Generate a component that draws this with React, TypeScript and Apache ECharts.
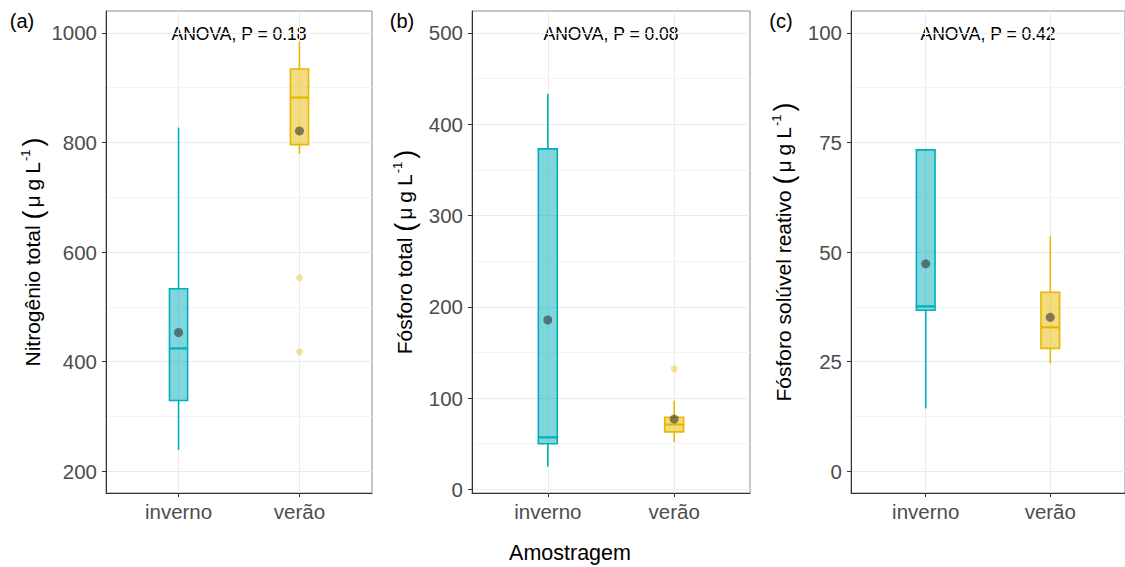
import React, { useEffect, useRef } from 'react';
import * as echarts from 'echarts';

// ---------- data ----------
const categories = ['inverno', 'verão'];
const categoryPositions = [1, 2];

// (a) Nitrogênio total: [min, Q1, median, Q3, max]
const nitroBoxes = [
  [239, 329, 424, 533, 827],
  [779, 796, 882, 934, 984],
];
const nitroMeans = [453, 821];
const nitroOutliers = [
  [2, 553],
  [2, 418],
];
const nitroTicks = [200, 400, 600, 800, 1000];
const nitroMinor = [300, 500, 700, 900];

// (b) Fósforo total
const fosfBoxes = [
  [25, 50, 57, 373, 433],
  [52, 63, 71, 79, 97],
];
const fosfMeans = [185.5, 77];
const fosfOutliers = [[2, 132]];
const fosfTicks = [0, 100, 200, 300, 400, 500];
const fosfMinor = [50, 150, 250, 350, 450];

// (c) Fósforo solúvel reativo
const srpBoxes = [
  [14.3, 36.7, 37.6, 73.3, 73.3],
  [24.6, 28, 32.8, 40.8, 53.6],
];
const srpMeans = [47.3, 35.1];
const srpOutliers: number[][] = [];
const srpTicks = [0, 25, 50, 75, 100];
const srpMinor = [12.5, 37.5, 62.5, 87.5];

const panelLabels = ['(a)', '(b)', '(c)'];
const anovaLabels = ['ANOVA, P = 0.18', 'ANOVA, P = 0.08', 'ANOVA, P = 0.42'];
const yTitles = ['Nitrogênio total ', 'Fósforo total ', 'Fósforo solúvel reativo '];
const xTitle = 'Amostragem';

// ---------- style ----------
const FONT = '"Liberation Sans", Arial, Helvetica, sans-serif';
const BORDER_COLORS = ['#00AFBB', '#E7B800'];
const FILL_COLORS = ['rgba(0,175,187,0.5)', 'rgba(231,184,0,0.5)'];
const OUTLIER_COLOR = 'rgba(231,184,0,0.5)';
const MEAN_COLOR = 'rgba(45,45,45,0.72)';
const BOX_WIDTH = 0.15;
const TICK_FONT = 20.5;
const TITLE_FONT = 21;

const panels = [
  { boxes: nitroBoxes, means: nitroMeans, outliers: nitroOutliers, ticks: nitroTicks, minor: nitroMinor, min: 160, max: 1040, grid: { left: 106, top: 11, width: 266, height: 482 }, nameGap: 60 },
  { boxes: fosfBoxes, means: fosfMeans, outliers: fosfOutliers, ticks: fosfTicks, minor: fosfMinor, min: -4, max: 524, grid: { left: 472, top: 11, width: 278, height: 482 }, nameGap: 54 },
  { boxes: srpBoxes, means: srpMeans, outliers: srpOutliers, ticks: srpTicks, minor: srpMinor, min: -5, max: 105, grid: { left: 851, top: 11, width: 279, height: 482 }, nameGap: 54 },
];

function renderBox(params: any, api: any) {
  const i = params.dataIndex;
  const x = api.value(0);
  const lo = api.coord([x, api.value(1)]);
  const q1 = api.coord([x, api.value(2)]);
  const med = api.coord([x, api.value(3)]);
  const q3 = api.coord([x, api.value(4)]);
  const hi = api.coord([x, api.value(5)]);
  const w = api.size([BOX_WIDTH, 0])[0];
  const cx = q1[0];
  const stroke = BORDER_COLORS[i];
  const lineStyle = { stroke, lineWidth: 1.6 };
  return {
    type: 'group',
    children: [
      { type: 'line', shape: { x1: cx, y1: hi[1], x2: cx, y2: q3[1] }, style: lineStyle },
      { type: 'line', shape: { x1: cx, y1: q1[1], x2: cx, y2: lo[1] }, style: lineStyle },
      {
        type: 'rect',
        shape: { x: cx - w / 2, y: q3[1], width: w, height: q1[1] - q3[1] },
        style: { fill: FILL_COLORS[i], stroke, lineWidth: 1.6 },
      },
      { type: 'line', shape: { x1: cx - w / 2, y1: med[1], x2: cx + w / 2, y2: med[1] }, style: { stroke, lineWidth: 2.2 } },
    ],
  };
}

export default function App() {
  const ref = useRef<HTMLDivElement>(null);

  useEffect(() => {
    if (!ref.current) return;
    const chart = echarts.init(ref.current, undefined, { renderer: 'svg' });

    const grids: any[] = [];
    const xAxes: any[] = [];
    const yAxes: any[] = [];
    const series: any[] = [];
    const graphics: any[] = [];

    panels.forEach((p, k) => {
      grids.push({ ...p.grid, show: true, borderColor: '#8c8c8c', borderWidth: 1, backgroundColor: 'transparent' });
      xAxes.push({
        gridIndex: k,
        type: 'value',
        min: 0.4,
        max: 2.6,
        axisLine: { show: true, onZero: false, lineStyle: { color: '#333', width: 1 } },
        axisTick: { show: true, length: 4, customValues: categoryPositions, lineStyle: { color: '#333' } },
        axisLabel: {
          customValues: categoryPositions,
          formatter: (v: number) => categories[Math.round(v) - 1] ?? '',
          color: '#4d4d4d',
          fontSize: TICK_FONT,
          fontFamily: FONT,
          margin: 8,
        },
        splitLine: { show: true, lineStyle: { color: '#ebebeb', width: 1 } },
      });
      // major y axis
      yAxes.push({
        gridIndex: k,
        type: 'value',
        min: p.min,
        max: p.max,
        name: `{t|${yTitles[k]}}{p|(}{m|μ}{g|g}{l|L}{s|-1}{q|)}`,
        nameLocation: 'middle',
        nameGap: p.nameGap,
        nameTextStyle: {
          color: '#000',
          fontFamily: FONT,
          rich: {
            t: { fontSize: TITLE_FONT, fontFamily: FONT, color: '#000' },
            p: { fontSize: 27, fontFamily: FONT, color: '#000', padding: [0, 3, 0, 0] },
            m: { fontSize: TITLE_FONT, fontFamily: FONT, color: '#000', padding: [0, 5, 0, 0] },
            g: { fontSize: TITLE_FONT, fontFamily: FONT, color: '#000', padding: [0, 5, 0, 0] },
            l: { fontSize: TITLE_FONT, fontFamily: FONT, color: '#000', padding: [0, 1, 0, 0] },
            s: { fontSize: 13, fontFamily: FONT, color: '#000', verticalAlign: 'top', padding: [0, 3, 0, 0] },
            q: { fontSize: 27, fontFamily: FONT, color: '#000' },
          },
        },
        axisLine: { show: true, onZero: false, lineStyle: { color: '#333', width: 1 } },
        axisTick: { show: true, length: 4, customValues: p.ticks, lineStyle: { color: '#333' } },
        axisLabel: {
          customValues: p.ticks,
          formatter: (v: number) => String(v),
          color: '#4d4d4d',
          fontSize: TICK_FONT,
          fontFamily: FONT,
          margin: 9,
        },
        splitLine: { show: true, lineStyle: { color: '#ebebeb', width: 1 } },
      });
      // minor y axis (grid lines only)
      yAxes.push({
        gridIndex: k,
        type: 'value',
        min: p.min,
        max: p.max,
        position: 'left',
        axisLine: { show: false },
        axisTick: { show: false, customValues: p.minor },
        axisLabel: { show: false, customValues: p.minor },
        splitLine: { show: true, lineStyle: { color: '#f4f4f4', width: 1 } },
        z: 0,
      });

      series.push({
        type: 'custom',
        xAxisIndex: k,
        yAxisIndex: 2 * k,
        renderItem: renderBox,
        data: p.boxes.map((b, i) => [categoryPositions[i], ...b]),
        encode: { x: 0, y: [1, 2, 3, 4, 5] },
        z: 3,
      });
      series.push({
        type: 'scatter',
        xAxisIndex: k,
        yAxisIndex: 2 * k,
        symbolSize: 7,
        itemStyle: { color: OUTLIER_COLOR },
        data: p.outliers,
        z: 3,
      });
      series.push({
        type: 'scatter',
        xAxisIndex: k,
        yAxisIndex: 2 * k,
        symbolSize: 9,
        itemStyle: { color: MEAN_COLOR },
        data: p.means.map((m, i) => [categoryPositions[i], m]),
        z: 4,
      });

      graphics.push({
        type: 'text',
        x: k === 2 ? 988 : p.grid.left + p.grid.width / 2,
        y: 34,
        style: { text: anovaLabels[k], fill: '#000', fontSize: 17.5, fontFamily: FONT, align: 'center', verticalAlign: 'middle' },
      });
    });

    const labelX = [22, 402, 781];
    panelLabels.forEach((t, k) => {
      graphics.push({
        type: 'text',
        x: labelX[k],
        y: 21,
        style: { text: t, fill: '#000', fontSize: 20, fontFamily: FONT, align: 'center', verticalAlign: 'middle' },
      });
    });
    graphics.push({
      type: 'text',
      x: 570,
      y: 553,
      style: { text: xTitle, fill: '#000', fontSize: 21.5, fontFamily: FONT, align: 'center', verticalAlign: 'middle' },
    });

    chart.setOption({
      animation: false,
      backgroundColor: '#fff',
      grid: grids,
      xAxis: xAxes,
      yAxis: yAxes,
      series,
      graphic: graphics,
    });

    return () => chart.dispose();
  }, []);

  return (
    <div
      ref={ref}
      style={{ position: 'fixed', left: 0, top: 0, width: 1125, height: 567, background: '#fff' }}
    />
  );
}
